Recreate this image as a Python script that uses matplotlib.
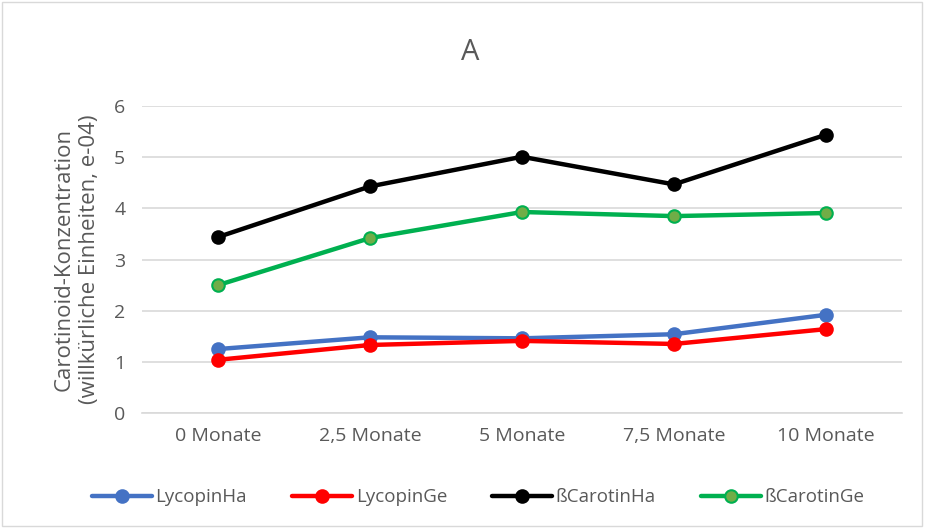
import numpy as np
import matplotlib.pyplot as plt
from matplotlib.patches import Rectangle

plt.rcParams['font.family'] = ['Open Sans', 'DejaVu Sans']

months = ["0 Monate", "2,5 Monate", "5 Monate", "7,5 Monate", "10 Monate"]
lycopin_ha = [1.25, 1.48, 1.46, 1.54, 1.92]
lycopin_ge = [1.04, 1.33, 1.41, 1.35, 1.64]
carotin_ha = [3.44, 4.43, 5.01, 4.47, 5.44]
carotin_ge = [2.50, 3.42, 3.93, 3.85, 3.91]

series = [
  ("LycopinHa", lycopin_ha, "#4472C4", "#4472C4", "#4472C4"),
  ("LycopinGe", lycopin_ge, "#FF0000", "#FF0000", "#FF0000"),
  ("ßCarotinHa", carotin_ha, "#000000", "#000000", "#000000"),
  ("ßCarotinGe", carotin_ge, "#00B050", "#70AD47", "#00B050"),
]

text_col = "#595959"

fig = plt.figure(figsize=(9.25, 5.28), dpi=100)
ax = fig.add_axes([0.1535, 0.2178, 0.8215, 0.5812])

x = np.arange(len(months))
for name, vals, line_col, face, edge in series:
  ax.plot(x, vals, color=line_col, lw=3.2, marker="o", markersize=9,
          markerfacecolor=face, markeredgecolor=edge, markeredgewidth=1.5,
          label=name, solid_capstyle="round", zorder=3)

ax.set_xlim(-0.5, 4.5)
ax.set_ylim(0, 6)
ax.set_yticks(range(0, 7))
ax.set_xticks(x)
ax.set_xticklabels(months)
ax.grid(axis="y", color="#D9D9D9", lw=1.2)
ax.set_axisbelow(True)
for s in ["top", "right", "left"]:
  ax.spines[s].set_visible(False)
ax.spines["bottom"].set_color("#D9D9D9")
ax.spines["bottom"].set_linewidth(1.2)
ax.tick_params(axis="both", length=0, labelsize=14, colors=text_col, pad=10)
ax.tick_params(axis="y", pad=12)

ax.set_ylabel("Carotinoid-Konzentration\n(willkürliche Einheiten, e-04)",
              fontsize=16, color=text_col, labelpad=10, linespacing=1.3)
fig.text(0.508, 0.9, "A", ha="center", va="center", fontsize=21, color=text_col)

fig.legend(loc="center", bbox_to_anchor=(0.517, 0.058), ncol=4, frameon=False,
           fontsize=13.5, labelcolor=text_col, handlelength=3.2, columnspacing=2.4,
           handletextpad=0.2)

fig.patches.append(Rectangle((0.002, 0.003), 0.995, 0.993, transform=fig.transFigure,
                             fill=False, edgecolor="#D9D9D9", lw=1))

fig.savefig("out.png", dpi=100)
